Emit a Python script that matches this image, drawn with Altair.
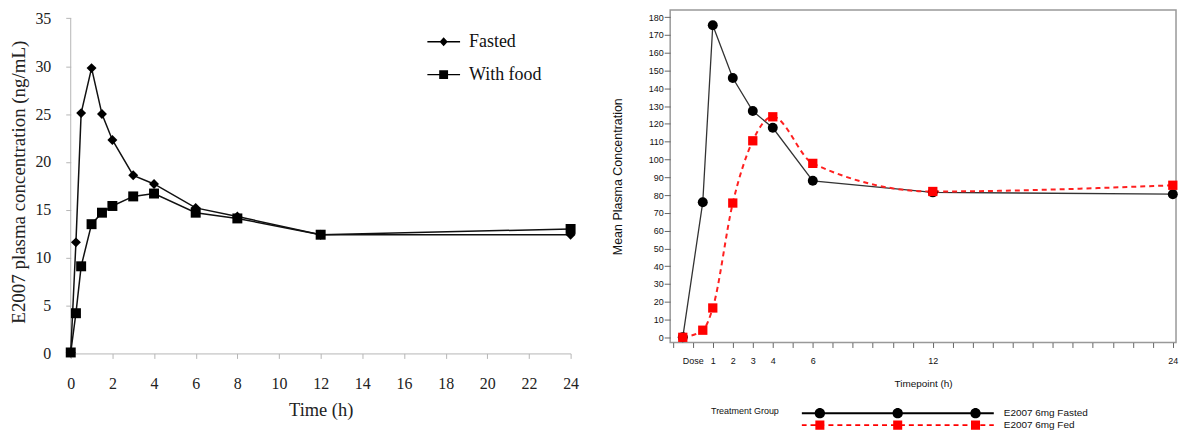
import altair as alt
import pandas as pd

# ---------------- data: left panel ----------------
left_time = [0, 0.25, 0.5, 1, 1.5, 2, 3, 4, 6, 8, 12, 24]
left_fasted = [0.1, 11.6, 25.1, 29.8, 25.0, 22.3, 18.6, 17.7, 15.2, 14.3, 12.4, 12.4]
left_food = [0.1, 4.2, 9.1, 13.5, 14.7, 15.4, 16.4, 16.7, 14.7, 14.1, 12.4, 13.0]
left_series = ["Fasted", "With food"]
left_x_ticks = [0, 2, 4, 6, 8, 10, 12, 14, 16, 18, 20, 22, 24]
left_y_ticks = [0, 5, 10, 15, 20, 25, 30, 35]
left_y_axis_extent = [0, 35]

# ---------------- data: right panel ----------------
right_time = [-0.5, 0.5, 1, 2, 3, 4, 6, 12, 24]
right_fasted = [0, 76, 175.5, 145.8, 127.2, 117.8, 88, 81.5, 80.5]
right_fed = [0, 4, 16.5, 75.5, 110.5, 124, 97.8, 82, 85.5]
right_series = ["E2007 6mg Fasted", "E2007 6mg Fed"]
right_x_ticks = list(range(-1, 25))
right_x_label_values = [0, 1, 2, 3, 4, 6, 12, 24]
right_x_label_texts = ["Dose", "1", "2", "3", "4", "6", "12", "24"]
right_y_ticks = list(range(0, 181, 10))

SERIF = "Liberation Serif"
SANS = "Liberation Sans"


def frame(times, values, name):
    return pd.DataFrame({"t": times, "v": values, "series": name})


# ======================= LEFT =======================
lf = frame(left_time, left_fasted, left_series[0])
lw = frame(left_time, left_food, left_series[1])
l_all = pd.concat([lf, lw], ignore_index=True)

lx_scale = alt.Scale(domain=[0, 24], nice=False, zero=False)
ly_scale = alt.Scale(domain=[0, 35.88], nice=False, zero=False)
lx_axis = alt.Axis(values=left_x_ticks, title="Time (h)", grid=False,
                   domainColor="#b5b5b5", tickColor="#b5b5b5", tickSize=5,
                   labelFont=SERIF, labelFontSize=16, labelColor="#222",
                   labelPadding=17, labelFlush=False,
                   titleFont=SERIF, titleFontSize=18.5, titleFontWeight="normal",
                   titleColor="#222", titlePadding=9)
ly_axis = alt.Axis(values=left_y_ticks, title="E2007 plasma concentration (ng/mL)",
                   grid=False, domain=False, tickColor="#b5b5b5", tickSize=5,
                   labelFont=SERIF, labelFontSize=16, labelColor="#222",
                   labelPadding=15,
                   titleFont=SERIF, titleFontSize=19, titleFontWeight="normal",
                   titleColor="#222", titlePadding=6)
lx = alt.X("t:Q", scale=lx_scale, axis=lx_axis)
ly = alt.Y("v:Q", scale=ly_scale, axis=ly_axis)

# y-axis line spanning the axis extent 0..35
axis_df = pd.DataFrame({"t": [0], "lo": [left_y_axis_extent[0]], "hi": [left_y_axis_extent[1]]})
l_axis = alt.Chart(axis_df).mark_rule(color="#b5b5b5", strokeWidth=1).encode(
    x=alt.X("t:Q", scale=lx_scale, axis=lx_axis),
    y=alt.Y("lo:Q", scale=ly_scale, axis=ly_axis),
    y2="hi:Q")

l_line_f = alt.Chart(lf).mark_line(color="#111", strokeWidth=1.5).encode(x=lx, y=ly)
l_line_w = alt.Chart(lw).mark_line(color="#111", strokeWidth=1.5).encode(x=lx, y=ly)
l_pt_f = alt.Chart(lf).mark_point(shape="diamond", filled=True, color="#000",
                                  size=100, opacity=1).encode(x=lx, y=ly)
l_pt_w = alt.Chart(lw).mark_point(shape="square", filled=True, color="#000",
                                  size=100, opacity=1).encode(x=lx, y=ly)

bar = "M-1,-0.045L1,-0.045L1,0.045L-1,0.045Z"
sym_diamond = bar + " M0,-0.27L0.25,0L0,0.27L-0.25,0Z"
sym_square = bar + " M-0.27,-0.27L0.27,-0.27L0.27,0.27L-0.27,0.27Z"

l_legend = alt.Chart(l_all).transform_filter("datum.t > 1000").mark_point(
    filled=True, color="#000", opacity=1).encode(
    x=lx, y=ly,
    shape=alt.Shape("series:N",
                    scale=alt.Scale(domain=left_series, range=[sym_diamond, sym_square]),
                    legend=alt.Legend(title=None, orient="none", legendX=358, legendY=24,
                                      symbolSize=1089, symbolStrokeWidth=0,
                                      symbolFillColor="#000", symbolOpacity=1,
                                      clipHeight=16, rowPadding=15, padding=0,
                                      labelFont=SERIF, labelFontSize=18, labelColor="#111",
                                      labelOffset=9)))

left = alt.layer(l_axis, l_line_f, l_line_w, l_pt_f, l_pt_w, l_legend).properties(
    width=502, height=345)

# ======================= RIGHT =======================
rf = frame(right_time, right_fasted, right_series[0])
rd = frame(right_time, right_fed, right_series[1])
r_all = pd.concat([rf, rd], ignore_index=True)

label_expr = "''"
for val, txt in zip(reversed(right_x_label_values), reversed(right_x_label_texts)):
    label_expr = f"datum.value == {val} ? '{txt}' : ({label_expr})"

rx = alt.X("t:Q", scale=alt.Scale(domain=[-1.13, 24.16], nice=False, zero=False),
           axis=alt.Axis(values=right_x_ticks, labelExpr=label_expr, title="Timepoint (h)",
                         grid=False, domain=False, tickColor="#666", tickSize=5,
                         labelFont=SANS, labelFontSize=9, labelColor="#111",
                         labelPadding=9, labelFlush=False,
                         titleFont=SANS, titleFontSize=10, titleFontWeight="normal",
                         titleColor="#111", titlePadding=13))
ry = alt.Y("v:Q", scale=alt.Scale(domain=[-2.9, 184.1], nice=False, zero=False),
           axis=alt.Axis(values=right_y_ticks, title="Mean Plasma Concentration",
                         grid=False, domain=False, tickColor="#666", tickSize=6,
                         labelFont=SANS, labelFontSize=9, labelColor="#111",
                         labelPadding=1,
                         titleFont=SANS, titleFontSize=12.5, titleFontWeight="normal",
                         titleColor="#111", titlePadding=24))

r_line_f = alt.Chart(rf).mark_line(color="#333", strokeWidth=1.3).encode(x=rx, y=ry)
r_line_d = alt.Chart(rd).mark_line(color="#ff2020", strokeWidth=2, strokeDash=[5, 4],
                                   interpolate="monotone").encode(x=rx, y=ry)
r_pt_f = alt.Chart(rf).mark_point(shape="circle", filled=True, color="#000",
                                  size=100, opacity=1).encode(x=rx, y=ry)
r_pt_d = alt.Chart(rd).mark_point(shape="square", filled=True, color="#ff0000",
                                  size=87, opacity=1).encode(x=rx, y=ry)


def circ(cx, r):
    return f"M{cx - r:.4f},0A{r},{r} 0 1,1 {cx + r:.4f},0A{r},{r} 0 1,1 {cx - r:.4f},0Z"


def sq(cx, h):
    return f"M{cx - h:.4f},{-h}L{cx + h:.4f},{-h}L{cx + h:.4f},{h}L{cx - h:.4f},{h}Z"


marker_pos = [-0.81, 0.0, 0.81]
sym_fasted = "M-1,-0.0104L1,-0.0104L1,0.0104L-1,0.0104Z " + " ".join(circ(c, 0.054) for c in marker_pos)
dash_parts = []
x0 = -1.0
while x0 < 1.0:
    x1 = min(x0 + 0.052, 1.0)
    dash_parts.append(f"M{x0:.4f},-0.0095L{x1:.4f},-0.0095L{x1:.4f},0.0095L{x0:.4f},0.0095Z")
    x0 += 0.093
sym_fed = " ".join(dash_parts) + " " + " ".join(sq(c, 0.047) for c in marker_pos)

r_leg = dict(title="Treatment Group", orient="none", legendX=41, legendY=399,
             titleOrient="left", titleAnchor="start", titleFont=SANS, titleFontSize=9,
             titleFontWeight="normal", titleColor="#111", titlePadding=22,
             symbolSize=37249, symbolStrokeWidth=0, symbolOpacity=1,
             clipHeight=12, rowPadding=0, padding=0,
             labelFont=SANS, labelFontSize=10, labelColor="#111", labelOffset=10)

r_legend = alt.Chart(r_all).transform_filter("datum.t > 1000").mark_point(
    filled=True, opacity=1).encode(
    x=rx, y=ry,
    color=alt.Color("series:N", scale=alt.Scale(domain=right_series, range=["#000", "#ff0000"]),
                    legend=alt.Legend(**r_leg)),
    shape=alt.Shape("series:N", scale=alt.Scale(domain=right_series, range=[sym_fasted, sym_fed]),
                    legend=alt.Legend(**r_leg)))

right = alt.layer(r_line_f, r_line_d, r_pt_f, r_pt_d, r_legend).properties(
    width=508, height=334,
    view=alt.ViewBackground(stroke="#999999", strokeWidth=1.5))

chart = alt.hconcat(left, right, spacing=32).resolve_scale(
    shape="independent", color="independent"
).resolve_legend(
    shape="independent", color="independent"
).properties(
    padding={"left": 2, "top": 0, "right": 0, "bottom": 0}
).configure_view(strokeWidth=0)

chart.save("out.html", embed_options={"renderer": "svg", "actions": False})
